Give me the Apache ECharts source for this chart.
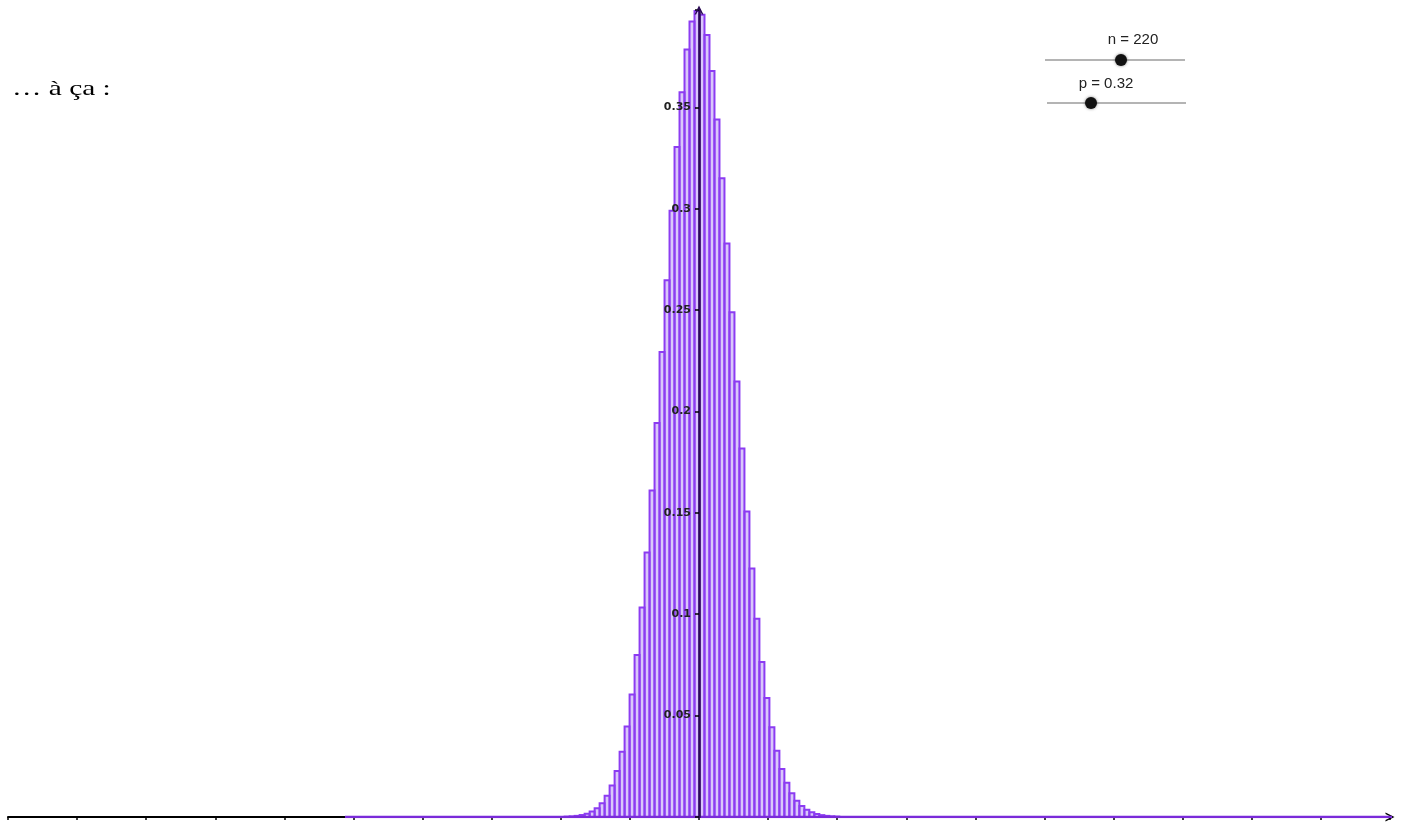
<!DOCTYPE html>
<html>
<head>
<meta charset="utf-8">
<script src="https://cdn.jsdelivr.net/npm/echarts@6/dist/echarts.min.js"></script>
<style>html,body{margin:0;padding:0;background:#fff;}#c{width:1402px;height:823px;}</style>
</head>
<body>
<div id="c"></div>
<script>
// Binomial parameters shown on the sliders
const n = 220;
const p = 0.32;
// Range of k for which (zero-height) bars exist
const kRange = [0, 220];
// k values of visible bars
const kValues = [44,45,46,47,48,49,50,51,52,53,54,55,56,57,58,59,60,61,62,63,64,65,66,67,68,69,
  70,71,72,73,74,75,76,77,78,79,80,81,82,83,84,85,86,87,88,89,90,91,92,93,94,95,96,97,98];
// bar heights
const barHeights = [0.00017,0.00031,0.00056,0.00097,0.00164,0.00270,0.00435,0.00683,0.01044,0.01558,
  0.02267,0.03220,0.04465,0.06045,0.07995,0.10331,0.13045,0.16102,0.19433,0.22935,0.26477,0.29903,
  0.33048,0.35746,0.37849,0.39236,0.39750,0.39560,0.38564,0.36793,0.34395,0.31508,0.28289,0.24896,
  0.21479,0.18168,0.15069,0.12256,0.09777,0.07650,0.05871,0.04421,0.03266,0.02367,0.01684,0.01175,
  0.00805,0.00541,0.00357,0.00231,0.00147,0.00092,0.00056,0.00034,0.00020];
// y tick labels
const yTickLabels = ['0.05','0.1','0.15','0.2','0.25','0.3','0.35'];

const mu = n * p;
const sigma = Math.sqrt(n * p * (1 - p));

const chart = echarts.init(document.getElementById('c'), null, {renderer: 'canvas'});

const caret = 'path://M0,10 L5,0 L10,10 L8.2,10 L5,3.6 L1.8,10 Z';
const gridLeft = 8, gridRight = 12, xMin = -20, xMax = 20;
const plotW = 1402 - gridLeft - gridRight;
const yAxisOffset = -plotW * (0 - xMin) / (xMax - xMin);

const option = {
  animation: false,
  backgroundColor: '#ffffff',
  grid: {left: gridLeft, right: gridRight, top: 10, bottom: 6, containLabel: false, outerBoundsMode: 'none'},
  xAxis: {
    type: 'value', min: xMin, max: xMax, interval: 2,
    axisLine: {show: true, onZero: false, lineStyle: {color: '#000', width: 2}, symbol: ['none', caret], symbolSize: [9, 9]},
    axisTick: {show: true, length: 3, inside: false, lineStyle: {color: '#000', width: 1.5}},
    axisLabel: {show: false},
    splitLine: {show: false}
  },
  yAxis: {
    type: 'value', min: 0, max: 0.398, interval: 0.05,
    position: 'left', offset: yAxisOffset, z: 6,
    axisLine: {show: true, onZero: false, lineStyle: {color: '#2a0a55', width: 2.5}, symbol: ['none', caret], symbolSize: [9, 9]},
    axisTick: {show: true, length: 4, inside: false, lineStyle: {color: '#000', width: 1.5}},
    axisLabel: {
      show: true, margin: 8, color: '#222', fontSize: 11, fontWeight: 'bold', fontFamily: 'DejaVu Sans',
      formatter: function (v) {
        const idx = Math.round(v / 0.05) - 1;
        if (Math.abs(v / 0.05 - Math.round(v / 0.05)) > 1e-6) return '';
        return (idx >= 0 && idx < yTickLabels.length) ? yTickLabels[idx] : '';
      }
    },
    splitLine: {show: false}
  },
  series: [
    {
      type: 'line',
      data: [[(kRange[0] - 0.5 - mu) / sigma, 0], [(kRange[1] + 0.5 - mu) / sigma, 0]],
      symbol: 'none',
      lineStyle: {color: '#7a2bd9', width: 2.5},
      z: 3,
      silent: true
    },
    {
      type: 'custom',
      data: kValues.map((k, i) => [k, barHeights[i]]),
      encode: {x: -1, y: 1},
      renderItem: function (params, api) {
        const k = api.value(0), s = api.value(1);
        const p0 = api.coord([(k - 0.5 - mu) / sigma, s]);
        const p1 = api.coord([(k + 0.5 - mu) / sigma, 0]);
        return {
          type: 'rect',
          shape: {x: p0[0], y: p0[1], width: p1[0] - p0[0], height: p1[1] - p0[1]},
          style: {fill: 'rgba(150,95,240,0.35)', stroke: '#8c3cf2', lineWidth: 2}
        };
      },
      z: 2,
      silent: true
    }
  ],
  graphic: [
    {type: 'text', x: 12, y: 89, scaleX: 1.4, style: {text: '… à ça :', font: '21px "Liberation Serif"', fill: '#000', verticalAlign: 'middle'}},
    {type: 'line', shape: {x1: 1045, y1: 60, x2: 1185, y2: 60}, style: {stroke: '#b4b4b4', lineWidth: 2}},
    {type: 'circle', shape: {cx: 1121, cy: 60, r: 6}, style: {fill: '#111', shadowBlur: 3, shadowColor: 'rgba(0,0,0,0.5)'}},
    {type: 'text', x: 1133, y: 40, style: {text: 'n = 220', font: '15px "Liberation Sans"', fill: '#222', align: 'center', verticalAlign: 'middle'}},
    {type: 'line', shape: {x1: 1047, y1: 103, x2: 1186, y2: 103}, style: {stroke: '#b4b4b4', lineWidth: 2}},
    {type: 'circle', shape: {cx: 1091, cy: 103, r: 6}, style: {fill: '#111', shadowBlur: 3, shadowColor: 'rgba(0,0,0,0.5)'}},
    {type: 'text', x: 1106, y: 84, style: {text: 'p = 0.32', font: '15px "Liberation Sans"', fill: '#222', align: 'center', verticalAlign: 'middle'}}
  ]
};
chart.setOption(option);
</script>
</body>
</html>
